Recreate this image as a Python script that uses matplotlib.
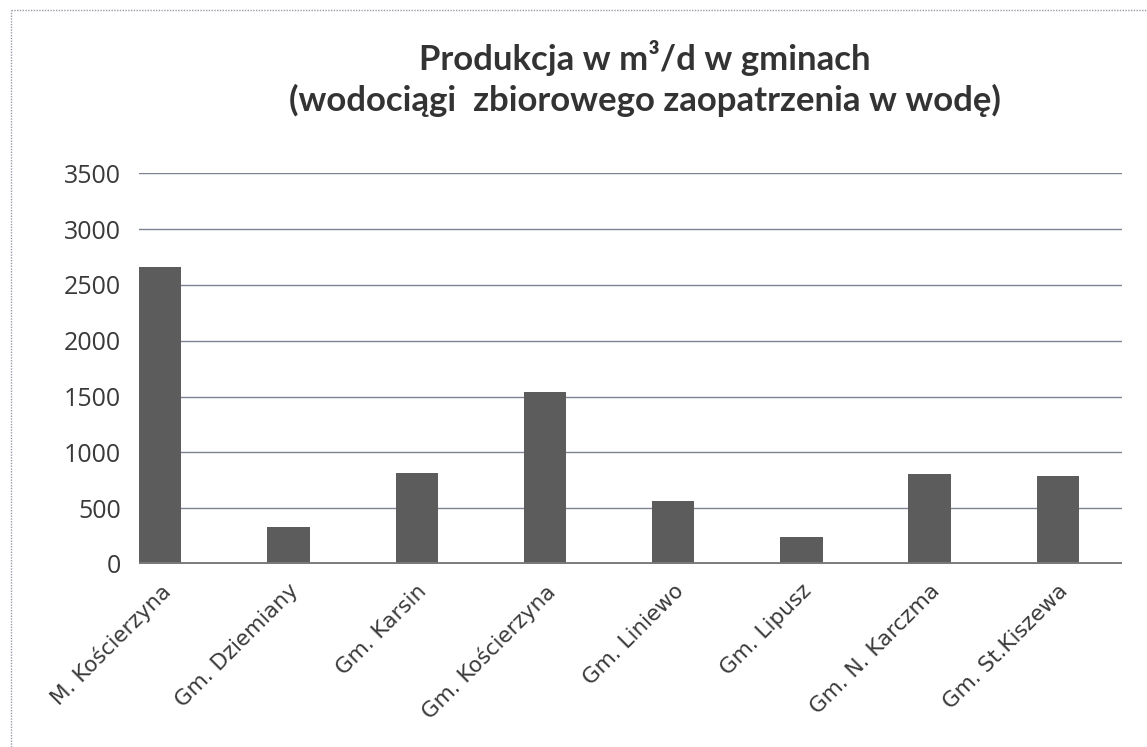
import matplotlib.pyplot as plt
from matplotlib.lines import Line2D

# gminy i produkcja wody (m3/d)
gminy = ["M. Kościerzyna", "Gm. Dziemiany", "Gm. Karsin", "Gm. Kościerzyna",
         "Gm. Liniewo", "Gm. Lipusz", "Gm. N. Karczma", "Gm. St.Kiszewa"]
produkcja = [2660, 335, 815, 1545, 565, 240, 805, 790]
y_ticks = [0, 500, 1000, 1500, 2000, 2500, 3000, 3500]

fig = plt.figure(figsize=(11.47, 7.47), dpi=100)
ax = fig.add_axes([0.1212, 0.245, 0.8570, 0.523])

x = list(range(len(gminy)))
ax.bar(x, produkcja, width=0.33, color="#5c5c5c", zorder=2)

ax.set_ylim(0, 3500)
ax.set_xlim(-0.165, 7.5)
ax.set_yticks(y_ticks)
ax.set_yticklabels([str(v) for v in y_ticks], fontsize=18, color="#3a3a3a",
                   family="Open Sans")
ax.tick_params(axis="y", length=0, pad=13)
ax.tick_params(axis="x", length=0)

for v in y_ticks[1:]:
    ax.axhline(v, color="#7d8290", lw=1.0, zorder=1)
ax.axhline(0, color="#7a7a7a", lw=3.5, zorder=3)

ax.set_xticks(x)
ax.set_xticklabels(gminy, rotation=45, ha="right", va="top",
                   rotation_mode="anchor", fontsize=15.5, color="#3a3a3a",
                   family="DejaVu Sans")
ax.tick_params(axis="x", pad=12)

for s in ax.spines.values():
    s.set_visible(False)

# tytul
fig.text(0.562, 0.922, "Produkcja w m³/d w gminach", ha="center", va="center",
         fontsize=25, fontweight="bold", color="#333333", family="Lato")
fig.text(0.562, 0.866, "(wodociągi  zbiorowego zaopatrzenia w wodę)", ha="center",
         va="center", fontsize=25, fontweight="bold", color="#333333", family="Lato")

# ramka wykresu (kropkowana)
fig.add_artist(Line2D([11 / 1147, 11 / 1147], [0, 1 - 10 / 747], transform=fig.transFigure,
                      color="#9a9aa6", lw=1, ls=(0, (1, 1))))
fig.add_artist(Line2D([11 / 1147, 1], [1 - 10 / 747, 1 - 10 / 747], transform=fig.transFigure,
                      color="#9a9aa6", lw=1, ls=(0, (1, 1))))

fig.savefig("out.png", dpi=100)
